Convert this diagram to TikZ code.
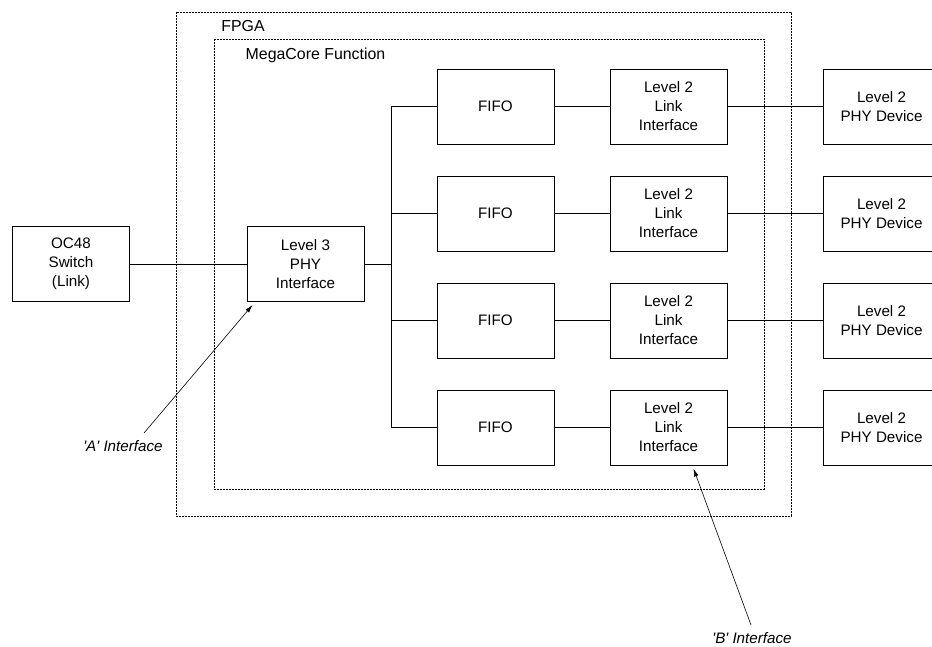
\documentclass[tikz,border=0pt]{standalone}
\usepackage{fontspec}
\setmainfont{Liberation Sans}
\usetikzlibrary{arrows.meta,positioning}

\begin{document}
\begin{tikzpicture}[x=1pt,y=-1pt,line width=0.9pt,
  blk/.style={draw,minimum width=117pt,minimum height=75pt,inner sep=0pt,
    align=center,font=\fontsize{15.2}{19}\selectfont},
  region/.style={draw,dash pattern=on 1.6pt off 1.4pt},
  lbl/.style={font=\fontsize{15.9}{19}\selectfont},
  note/.style={font=\fontsize{15.2}{19}\selectfont\itshape},
  pointer/.style={-{Latex[length=8pt,width=4.5pt]},line width=0.6pt}]
\useasboundingbox (0,0) rectangle (932,647);
% FPGA and core boundaries
\draw[region] (176,12) rectangle (791,516);
\draw[region] (214,39) rectangle (764,489);
\node[lbl] (fpgalab) at (243,26) {FPGA};
\node[lbl] (corelab) at (315.5,55) {MegaCore Function};
% switch side
\node[blk] (oc48) at (71,264) {OC48\\Switch\\(Link)};
\node[blk] (l3phy) at (305.5,264) {Level 3\\PHY\\Interface};
\draw (oc48) -- (l3phy);
\coordinate (busx) at (391,264);
\draw (l3phy.east) -- (busx);
% channels
\foreach \i/\y in {1/106.5,2/213.5,3/320.5,4/427.5}{
  \node[blk] (fifo\i) at (495.5,\y) {FIFO};
  \node[blk] (link\i) at (668.5,\y) {Level 2\\Link\\Interface};
  \node[blk] (phy\i) at (881.5,\y) {Level 2\\PHY Device};
  \draw (busx) |- (fifo\i.west);
  \draw (fifo\i) -- (link\i);
  \draw (link\i) -- (phy\i);
}
% interface callouts
\node[note] (alab) at (123,446) {\textquotesingle A\textquotesingle\ Interface};
\coordinate (atail) at (144,433);
\draw[pointer] (atail) -- ([shift={(6,3)}]l3phy.south west);
\node[note] (blab) at (752,638) {\textquotesingle B\textquotesingle\ Interface};
\coordinate (btail) at (751,625);
\draw[pointer] (btail) -- ([shift={(-34,3)}]link4.south east);
\end{tikzpicture}
\end{document}
